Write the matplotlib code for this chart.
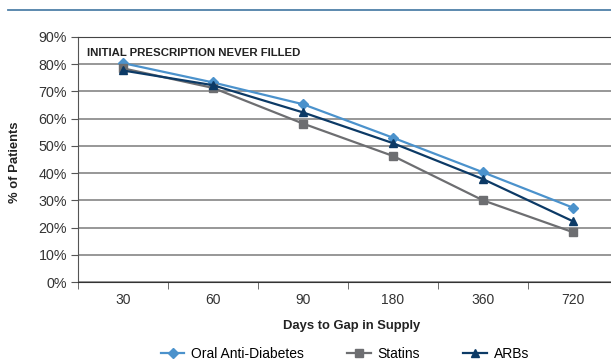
import matplotlib
matplotlib.use("Agg")
import matplotlib.pyplot as plt
from matplotlib.lines import Line2D

plt.rcParams['font.family'] = ['Liberation Sans', 'DejaVu Sans']

categories = ["30", "60", "90", "180", "360", "720"]
oral = [80.4, 73.3, 65.3, 53.0, 40.3, 27.3]
statins = [78.5, 71.3, 58.2, 46.3, 30.0, 18.3]
arbs = [77.7, 72.3, 62.3, 51.0, 37.8, 22.3]
yticks = [0, 10, 20, 30, 40, 50, 60, 70, 80, 90]

c_oral = "#4b92cc"
c_stat = "#6d6e71"
c_arb = "#0c3a66"

fig = plt.figure(figsize=(6.11, 3.64), dpi=100)
ax = fig.add_axes([78/611, 1-282/364, 540/611, 245/364])

x = list(range(len(categories)))
ax.plot(x, oral, color=c_oral, marker="D", markersize=5, lw=1.6, label="Oral Anti-Diabetes", zorder=3)
ax.plot(x, statins, color=c_stat, marker="s", markersize=6, lw=1.6, label="Statins", zorder=3)
ax.plot(x, arbs, color=c_arb, marker="^", markersize=6, lw=1.6, label="ARBs", zorder=4)

ax.set_xlim(-0.5, len(categories) - 0.5)
ax.set_ylim(0, 90)
ax.set_yticks(yticks)
ax.set_yticklabels([f"{v}%" for v in yticks], fontsize=10.3, color="#333333")
ax.set_xticks(x)
ax.set_xticklabels(categories, fontsize=10, color="#333333")
ax.set_xticks([i - 0.5 for i in range(len(categories) + 1)], minor=True)
ax.tick_params(axis="x", which="major", length=0, pad=8)
ax.tick_params(axis="x", which="minor", length=5, color="#555555", direction="out")
ax.tick_params(axis="y", length=5, color="#555555", direction="out", pad=3)

ax.grid(axis="y", color="#7a7a7a", lw=1.1, zorder=0)
for s in ["right"]:
    ax.spines[s].set_visible(False)
ax.spines["top"].set_color("#444444")
ax.spines["bottom"].set_color("#333333")
ax.spines["left"].set_color("#555555")

ax.text(0.017, 0.955, "INITIAL PRESCRIPTION NEVER FILLED", transform=ax.transAxes,
        fontsize=8.2, fontweight="bold", color="#222222", va="top", ha="left")

fig.text(15/611, 1-162/364, "% of Patients", fontsize=9.4, fontweight="bold",
         color="#222222", rotation=90, ha="center", va="center")
fig.text(352/611, 1-326/364, "Days to Gap in Supply", fontsize=9.4, fontweight="bold",
         color="#222222", ha="center", va="center")

handles = [Line2D([], [], color=c_oral, marker="D", markersize=5, lw=1.6),
           Line2D([], [], color=c_stat, marker="s", markersize=6, lw=1.6),
           Line2D([], [], color=c_arb, marker="^", markersize=6, lw=1.6)]
fig.legend(handles, ["Oral Anti-Diabetes", "Statins", "ARBs"], loc="center",
           bbox_to_anchor=(345/611, 1-354/364), ncol=3, frameon=False, fontsize=10,
           handlelength=1.7, columnspacing=3.1, handletextpad=0.5)

fig.add_artist(Line2D([8/611, 1], [1-10/364, 1-10/364], color="#4f80a8", lw=1.3,
                      transform=fig.transFigure))

fig.savefig("out.png", dpi=100)
